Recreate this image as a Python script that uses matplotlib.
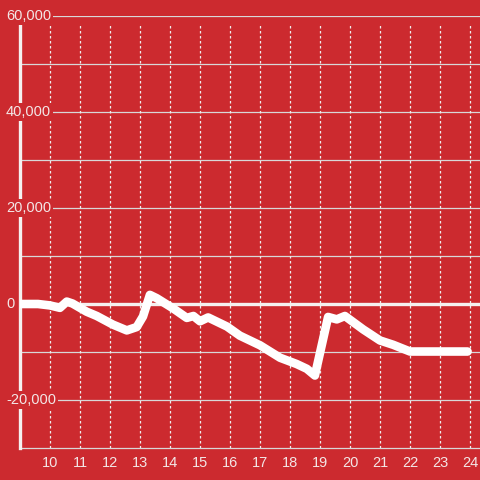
import matplotlib.pyplot as plt
import matplotlib.transforms as mtransforms

# time of day (hours) and running value
hours = [9.0, 9.6, 10.0, 10.33, 10.56, 10.75, 11.22, 11.56, 12.1, 12.56, 12.89, 13.1,
         13.33, 13.56, 14.1, 14.56, 14.78, 15.0, 15.27, 15.9, 16.33, 17.0, 17.67,
         18.22, 18.56, 18.83, 19.27, 19.56, 19.83, 20.44, 21.0, 21.44, 22.0, 23.92]
values = [0, 0, -300, -800, 500, 100, -1600, -2500, -4300, -5500, -4800, -2600,
          1900, 1200, -900, -2900, -2500, -3600, -2800, -4700, -6600, -8600, -11200,
          -12500, -13500, -14900, -2700, -3200, -2500, -5300, -7600, -8500, -9900, -9900]

y_ticks = [-20000, 0, 20000, 40000, 60000]
y_grid = [-20000, -10000, 10000, 20000, 30000, 40000, 50000, 60000]
x_ticks = list(range(10, 25))

bg = '#cc2a2f'
plt.rcParams['font.family'] = ['Liberation Sans', 'DejaVu Sans']

fig = plt.figure(figsize=(4.8, 4.8), dpi=100, facecolor=bg)
ax = fig.add_axes([20 / 480, 32 / 480, 460 / 480, 432 / 480])
ax.set_facecolor(bg)
ax.set_xlim(9, 9 + 460 / 30)
ax.set_ylim(-30000, 60000)

# grid
for g in y_grid:
    ax.axhline(g, color='#d8d8d8', lw=0.9, zorder=1)
for t in x_ticks:
    ax.plot([t, t], [-30000, 58300], color='#eeeeee', lw=0.9, ls=(0, (2, 2)), zorder=1)
ax.axhline(0, color='#f5f0f0', lw=2.4, zorder=2)

ax.plot(hours, values, color='white', lw=6.2, solid_joinstyle='round',
        solid_capstyle='round', zorder=4)

for s in ['top', 'right']:
    ax.spines[s].set_visible(False)
ax.spines['left'].set_color('#f5f0f0')
ax.spines['left'].set_linewidth(2.4)
ax.spines['left'].set_zorder(3)
ax.spines['bottom'].set_color('#d8d8d8')
ax.spines['bottom'].set_linewidth(0.9)

ax.set_yticks([])
ax.set_xticks(x_ticks)
ax.tick_params(axis='x', length=0, pad=6, labelsize=10.5, labelcolor='#f3e6e6')

trans = mtransforms.blended_transform_factory(fig.transFigure, ax.transData)
for v in y_ticks:
    ax.text(6 / 480, v, f'{v:,}', transform=trans, ha='left', va='center',
            fontsize=10.5, color='#f3e6e6', zorder=5, clip_on=False,
            bbox=dict(boxstyle='square,pad=0.15', fc=bg, ec='none'))

fig.savefig('out.png', dpi=100, facecolor=bg)
